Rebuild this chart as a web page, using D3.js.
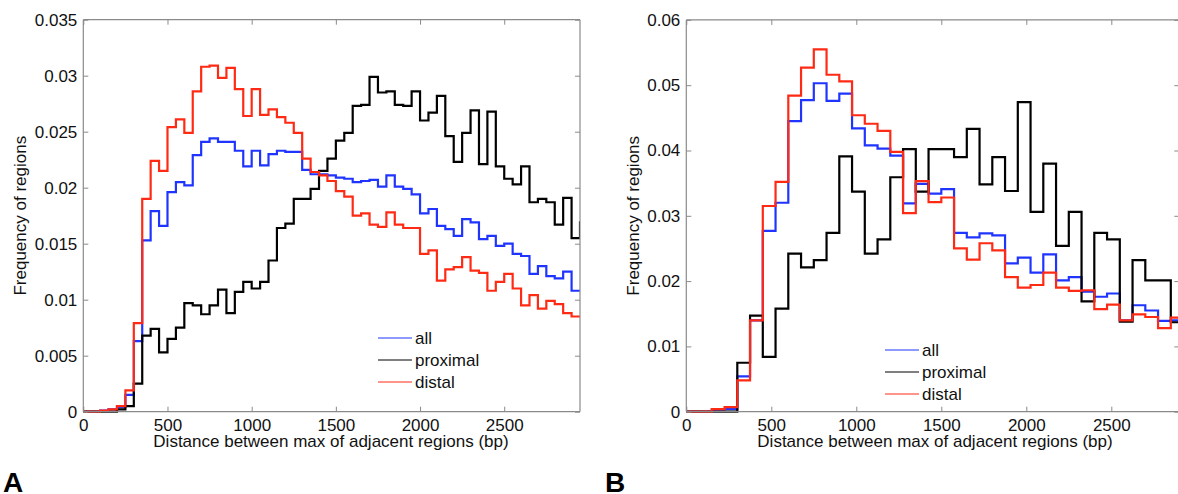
<!DOCTYPE html>
<html>
<head>
<meta charset="utf-8">
<script src="https://cdn.jsdelivr.net/npm/d3@7/dist/d3.min.js"></script>
<style>
  html, body { margin: 0; padding: 0; background: #fff; }
  svg { display: block; font-family: "Liberation Sans", Arial, Helvetica, sans-serif; }
</style>
</head>
<body>
<svg id="fig" width="1178" height="494"></svg>
<script>
// ---- Panel A: 50 bp bins ----
const binWidthA = 50;
const allA = [0, 0, 0.0001, 0.0002, 0.0004, 0.0015, 0.0063, 0.0153, 0.0179, 0.0166,
  0.0196, 0.0205, 0.0202, 0.0229, 0.0241, 0.0244, 0.0241, 0.0241, 0.0233, 0.0219,
  0.0233, 0.0220, 0.0230, 0.0233, 0.0232, 0.0232, 0.0216, 0.0212, 0.0212, 0.0211,
  0.0209, 0.0208, 0.0205, 0.0206, 0.0207, 0.0201, 0.0211, 0.0201, 0.0199, 0.0194,
  0.0177, 0.0181, 0.0166, 0.0163, 0.0157, 0.0172, 0.0169, 0.0154, 0.0157, 0.0148,
  0.0150, 0.0141, 0.0139, 0.0123, 0.0130, 0.0121, 0.0119, 0.0125, 0.0108, 0.0108];
const proximalA = [0, 0, 0, 0, 0.0002, 0.0005, 0.0025, 0.0068, 0.0074, 0.0053,
  0.0065, 0.0075, 0.0097, 0.0095, 0.0087, 0.0095, 0.0109, 0.0088, 0.0107, 0.0116,
  0.0110, 0.0116, 0.0135, 0.0164, 0.0168, 0.0190, 0.0190, 0.0199, 0.0215, 0.0226,
  0.0242, 0.0249, 0.0273, 0.0274, 0.0299, 0.0285, 0.0286, 0.0274, 0.0273, 0.0286,
  0.0260, 0.0267, 0.0282, 0.0246, 0.0223, 0.0249, 0.0269, 0.0221, 0.0268, 0.0219,
  0.0208, 0.0203, 0.0219, 0.0187, 0.0190, 0.0187, 0.0167, 0.0191, 0.0155, 0.0169];
const distalA = [0, 0, 0.0001, 0.0002, 0.0005, 0.0019, 0.0079, 0.0190, 0.0224, 0.0215,
  0.0254, 0.0261, 0.0249, 0.0286, 0.0308, 0.0309, 0.0298, 0.0307, 0.0288, 0.0264,
  0.0288, 0.0265, 0.0270, 0.0263, 0.0258, 0.0249, 0.0226, 0.0214, 0.0211, 0.0206,
  0.0197, 0.0192, 0.0175, 0.0177, 0.0167, 0.0165, 0.0178, 0.0167, 0.0164, 0.0164,
  0.0141, 0.0144, 0.0117, 0.0127, 0.0129, 0.0138, 0.0126, 0.0124, 0.0108, 0.0116,
  0.0123, 0.0110, 0.0095, 0.0104, 0.0092, 0.0099, 0.0096, 0.0088, 0.0085, 0.0085];
const yTicksA = [0, 0.005, 0.01, 0.015, 0.02, 0.025, 0.03, 0.035];
const yTickLabelsA = ["0", "0.005", "0.01", "0.015", "0.02", "0.025", "0.03", "0.035"];

// ---- Panel B: 75 bp bins ----
const binWidthB = 75;
const allB = [0, 0, 0.0003, 0.0004, 0.0054, 0.0140, 0.0277, 0.0320, 0.0445, 0.0477,
  0.0503, 0.0476, 0.0487, 0.0434, 0.0408, 0.0403, 0.0392, 0.0319, 0.0349, 0.0334,
  0.0341, 0.0274, 0.0267, 0.0273, 0.0270, 0.0227, 0.0236, 0.0213, 0.0241, 0.0201,
  0.0206, 0.0184, 0.0176, 0.0181, 0.0140, 0.0163, 0.0155, 0.0139, 0.0140];
const proximalB = [0, 0, 0, 0, 0.0075, 0.0147, 0.0084, 0.0158, 0.0242, 0.0221,
  0.0232, 0.0274, 0.0391, 0.0337, 0.0242, 0.0264, 0.0359, 0.0402, 0.0337, 0.0402,
  0.0402, 0.0390, 0.0433, 0.0348, 0.0390, 0.0338, 0.0474, 0.0306, 0.0380, 0.0254,
  0.0306, 0.0169, 0.0274, 0.0264, 0.0138, 0.0232, 0.0201, 0.0201, 0.0137];
const distalB = [0, 0, 0.0004, 0.0007, 0.0048, 0.0140, 0.0315, 0.0352, 0.0484, 0.0527,
  0.0555, 0.0516, 0.0506, 0.0454, 0.0441, 0.0430, 0.0398, 0.0304, 0.0353, 0.0321,
  0.0328, 0.0250, 0.0233, 0.0258, 0.0247, 0.0206, 0.0190, 0.0194, 0.0213, 0.0190,
  0.0185, 0.0186, 0.0157, 0.0164, 0.0140, 0.0149, 0.0145, 0.0128, 0.0144];
const yTicksB = [0, 0.01, 0.02, 0.03, 0.04, 0.05, 0.06];
const yTickLabelsB = ["0", "0.01", "0.02", "0.03", "0.04", "0.05", "0.06"];

const xTicks = [0, 500, 1000, 1500, 2000, 2500];
const seriesNames = ["all", "proximal", "distal"];
const seriesColors = { all: "#1f35ff", proximal: "#000000", distal: "#ff2a14" };
const xLabel = "Distance between max of adjacent regions (bp)";
const yLabel = "Frequency of regions";

const svg = d3.select("#fig");
const fontSize = 17;
const axisColor = "#8a8a8a";
const textColor = "#111111";

function drawPanel(cfg) {
  const { id, left, right, top, bottom, xMax, yMax, yTicks, yTickLabels,
          binWidth, data, legend, letter } = cfg;
  const x = d3.scaleLinear().domain([0, xMax]).range([left, right]);
  const y = d3.scaleLinear().domain([0, yMax]).range([bottom, top]);
  const g = svg.append("g");

  const clipId = "clip-" + id;
  svg.append("defs").append("clipPath").attr("id", clipId)
    .append("rect").attr("x", left).attr("y", top - 2)
    .attr("width", right - left).attr("height", bottom - top + 4);

  // histogram outlines: one horizontal step per bin
  const stepLine = d3.line().x(d => x(d[0])).y(d => y(d[1])).curve(d3.curveStepAfter);
  const plotG = g.append("g").attr("clip-path", `url(#${clipId})`);
  seriesNames.forEach(name => {
    const vals = data[name];
    const pts = vals.map((v, i) => [i * binWidth, v]);
    pts.push([vals.length * binWidth, vals[vals.length - 1]]);
    plotG.append("path").attr("d", stepLine(pts))
      .attr("fill", "none").attr("stroke", seriesColors[name])
      .attr("stroke-width", 2.2).attr("stroke-linejoin", "miter");
  });

  // axes box with inward ticks on all four sides
  const axB = d3.axisBottom(x).tickValues(xTicks).tickSize(-5).tickFormat(d3.format("d")).tickPadding(7);
  const axT = d3.axisTop(x).tickValues(xTicks).tickSize(-5).tickFormat("");
  const axL = d3.axisLeft(y).tickValues(yTicks).tickSize(-5)
    .tickFormat((d, i) => yTickLabels[i]).tickPadding(8);
  const axR = d3.axisRight(y).tickValues(yTicks).tickSize(-5).tickFormat("");

  const gB = g.append("g").attr("transform", `translate(0,${bottom})`).call(axB);
  const gT = g.append("g").attr("transform", `translate(0,${top})`).call(axT);
  const gL = g.append("g").attr("transform", `translate(${left},0)`).call(axL);
  const gR = g.append("g").attr("transform", `translate(${right},0)`).call(axR);
  [gB, gT, gL, gR].forEach(a => {
    a.selectAll("path.domain").attr("stroke", axisColor).attr("stroke-width", 1.2);
    a.selectAll(".tick line").attr("stroke", axisColor).attr("stroke-width", 1);
    a.selectAll(".tick text").attr("fill", textColor).attr("font-size", fontSize)
      .attr("font-family", "'Liberation Sans', Arial, sans-serif");
  });
  gT.selectAll("path.domain").attr("d", `M${left},0H${right}`);
  gB.selectAll("path.domain").attr("d", `M${left},0H${right}`);
  gL.selectAll("path.domain").attr("d", `M0,${top}V${bottom}`);
  gR.selectAll("path.domain").attr("d", `M0,${top}V${bottom}`);
  gB.selectAll(".tick text").attr("dy", "0.72em");
  gL.selectAll(".tick text").attr("dx", "2");

  // axis titles
  g.append("text").attr("x", cfg.xLabelX).attr("y", 447).attr("text-anchor", "middle")
    .attr("font-size", fontSize).attr("fill", textColor).text(xLabel);
  g.append("text")
    .attr("transform", `translate(${cfg.yLabelX},${(top + bottom) / 2}) rotate(-90)`)
    .attr("text-anchor", "middle").attr("font-size", fontSize).attr("fill", textColor)
    .text(yLabel);

  // legend
  seriesNames.forEach((name, i) => {
    const ly = legend.y + i * legend.dy;
    g.append("line").attr("x1", legend.x).attr("x2", legend.x + 34)
      .attr("y1", ly).attr("y2", ly).attr("stroke", seriesColors[name]).attr("stroke-width", 1);
    g.append("text").attr("x", legend.x + 37).attr("y", ly + 6)
      .attr("font-size", fontSize).attr("fill", textColor).text(name);
  });

  // panel letter
  g.append("text").attr("x", letter.x).attr("y", 492)
    .attr("font-size", 28).attr("font-weight", "bold").attr("fill", "#000").text(letter.t);
}

drawPanel({
  id: "A", left: 83.3, right: 580, top: 19.7, bottom: 411.7,
  xMax: 2950, yMax: 0.035, yTicks: yTicksA, yTickLabels: yTickLabelsA,
  binWidth: binWidthA, data: { all: allA, proximal: proximalA, distal: distalA },
  legend: { x: 378, y: 338, dy: 22 }, letter: { x: 3, t: "A" },
  xLabelX: 331, yLabelX: 26
});
drawPanel({
  id: "B", left: 686.3, right: 1179.3, top: 19.9, bottom: 411.7,
  xMax: 2900, yMax: 0.06, yTicks: yTicksB, yTickLabels: yTickLabelsB,
  binWidth: binWidthB, data: { all: allB, proximal: proximalB, distal: distalB },
  legend: { x: 885, y: 350, dy: 22 }, letter: { x: 605, t: "B" },
  xLabelX: 935, yLabelX: 639
});
</script>
</body>
</html>
